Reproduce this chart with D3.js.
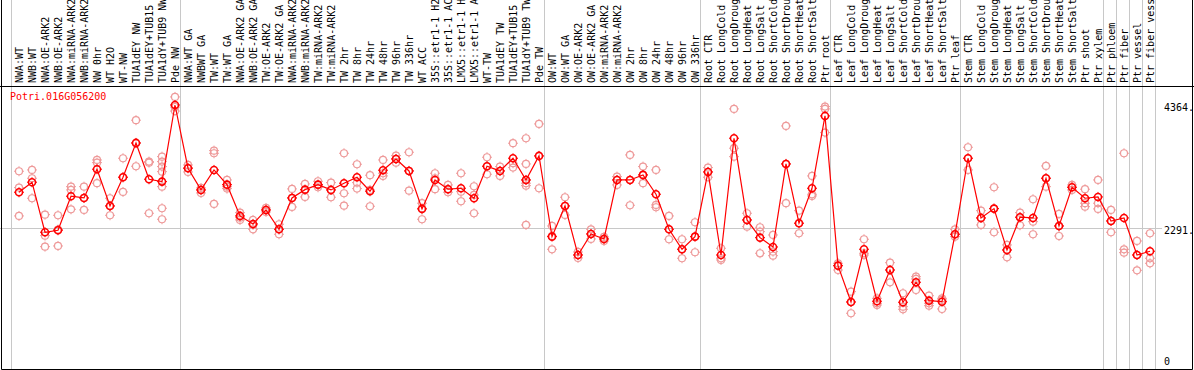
<!DOCTYPE html>
<html>
<head>
<meta charset="utf-8">
<script src="https://cdn.jsdelivr.net/npm/d3@7"></script>
<style>
  html, body { margin: 0; padding: 0; background: #fff; }
  svg { display: block; }
  text { font-family: "DejaVu Sans Mono", monospace; font-size: 10px; }
</style>
</head>
<body>
<svg width="1194" height="370"></svg>
<script>
const geneName = 'Potri.016G056200'

const samples = [
	'NWA:WT', 'NWB:WT', 'NWA:OE-ARK2', 'NWB:OE-ARK2', 'NWA:miRNA-ARK2', 'NWB:miRNA-ARK2',
	'NW 0hr', 'WT H2O', 'WT-NW', 'TUA1dEY NW', 'TUA1dEY+TUB15 NW', 'TUA1dY+TUB9 NW', 'Pde NW',
	'NWA:WT GA', 'NWBWT GA', 'TW:WT', 'TW:WT GA', 'NWA:OE-ARK2 GA', 'NWB:OE-ARK2 GA',
	'TW:OE-ARK2', 'TW:OE-ARK2 GA', 'NWA:miRNA-ARK2 GA', 'NWB:miRNA-ARK2 GA', 'TW:miRNA-ARK2',
	'TW:miRNA-ARK2 GA', 'TW 2hr', 'TW 8hr', 'TW 24hr', 'TW 48hr', 'TW 96hr', 'TW 336hr', 'WT ACC',
	'35S::etr1-1 H2O', '35S::etr1-1 ACC', 'LMX5::etr1-1 H2O', 'LMX5::etr1-1 ACC', 'WT-TW',
	'TUA1dEY TW', 'TUA1dEY+TUB15 TW', 'TUA1dY+TUB9 TW', 'Pde TW',
	'OW:WT', 'OW:WT GA', 'OW:OE-ARK2', 'OW:OE-ARK2 GA', 'OW:miRNA-ARK2', 'OW:miRNA-ARK2 GA',
	'OW 2hr', 'OW 8hr', 'OW 24hr', 'OW 48hr', 'OW 96hr', 'OW 336hr',
	'Root CTR', 'Root LongCold', 'Root LongDrought', 'Root LongHeat', 'Root LongSalt',
	'Root ShortCold', 'Root ShortDrought', 'Root ShortHeat', 'Root ShortSalt', 'Ptr root',
	'Leaf CTR', 'Leaf LongCold', 'Leaf LongDrought', 'Leaf LongHeat', 'Leaf LongSalt',
	'Leaf ShortCold', 'Leaf ShortDrought', 'Leaf ShortHeat', 'Leaf ShortSalt', 'Ptr leaf',
	'Stem CTR', 'Stem LongCold', 'Stem LongDrought', 'Stem LongHeat', 'Stem LongSalt',
	'Stem ShortCold', 'Stem ShortDrought', 'Stem ShortHeat', 'Stem ShortSalt', 'Ptr shoot', 'Ptr xylem',
	'Ptr phloem', 'Ptr fiber', 'Ptr vessel', 'Ptr fiber vessel'
]

// index of the first sample of each block (a grey rule is drawn there)
const groupBreaks = [0, 13, 41, 53, 63, 73, 84, 85, 86, 87, 88]

const meanValues = [
	2894, 3063, 2220, 2254, 2827, 2798, 3282, 2663, 3147, 3725, 3113, 3073, 4364,
	3299, 2933, 3270, 3022, 2495, 2360, 2596, 2270, 2798, 2938, 3022, 2933, 3046, 3147,
	2911, 3265, 3455, 3253, 2613, 3101, 2945, 2961, 2793, 3332, 3253, 3467, 3101, 3506,
	2146, 2663, 1837, 2191, 2107, 3101, 3101, 3186, 2860, 2270, 1933, 2146,
	3236, 1837, 3804, 2427, 2129, 1972, 3371, 2372, 2961, 4180,
	1657, 1045, 1933, 1057, 1584, 1040, 1377, 1067, 1050, 2186,
	3467, 2461, 2618, 1921, 2473, 2461, 3130, 2326, 2978, 2793, 2815,
	2410, 2461, 1837, 1900
]

const replicateValues = [
	[3248, 2972, 2495], [3270, 3130, 2793], [2516, 2163, 1977], [2506, 2264, 1989],
	[2988, 2933, 2607], [2988, 2798, 2596], [3438, 3393, 3046], [2793, 2663, 2506],
	[3467, 3147, 2899], [4108, 3720, 3332], [3410, 3393, 2540],
	[3494, 3410, 3326, 3241, 2988, 2624, 2439], [4500, 4330, 4262],
	[3354, 3304, 3236], [2966, 2933, 2882], [3595, 3551, 2697], [3101, 2988, 2955],
	[2550, 2466, 2427], [2427, 2343, 2270], [2629, 2596, 2562], [2355, 2270, 2186],
	[2950, 2798, 2646], [3034, 2933, 2815], [3079, 3017, 2978], [3056, 2933, 2810],
	[3551, 2877, 2668], [3366, 3056, 2955], [3181, 2933, 2658], [3438, 3214, 3169],
	[3511, 3455, 3393], [3568, 3253, 2921], [2709, 2624, 2439], [3214, 3130, 2945],
	[3017, 2945, 2894], [3214, 2904, 2742], [2995, 2848, 2540], [3484, 3332, 3197],
	[3326, 3253, 3169], [3720, 3383, 3309], [3804, 3371, 3101, 3046, 3005, 2343],
	[4045, 3506, 2961],
	[2326, 2157, 1933], [2810, 2663, 2511], [1888, 1837, 1787], [2270, 2191, 2107],
	[2141, 2107, 2073], [3157, 3101, 3017], [3523, 3101, 2675], [3326, 3186, 3046],
	[3270, 2680, 2641], [2495, 2270, 2102], [2102, 1933, 1782], [2388, 2146, 1883],
	[3309, 3236, 3147], [1950, 1782, 1753], [4298, 3636, 3494], [2540, 2427, 2314],
	[2304, 2230, 1866], [2174, 1893, 1825], [4011, 3371, 2709], [2584, 2372, 2203],
	[3169, 2860, 2832], [4337, 4298, 3899],
	[1697, 1657, 1584], [1219, 1045, 855], [2102, 1866, 1837], [1107, 1023, 994],
	[1707, 1584, 1377], [1192, 966, 922], [1471, 1433, 1247], [1151, 1023, 983],
	[1107, 1079, 927], [2270, 2186, 2146],
	[3652, 3467, 3270], [2584, 2461, 2343], [2978, 2618, 2220], [2006, 1921, 1798],
	[2550, 2473, 2338], [2776, 2398, 2186], [3337, 3130, 2988], [2528, 2326, 2157],
	[3017, 2978, 2933], [2945, 2709, 2651], [3101, 2709, 2613],
	[2596, 2410, 2220], [3551, 1933, 1876], [2073, 1837, 1579], [2203, 1782, 1697]
]

const tickValues = [0, 2291, 4364]
const gridValue = 2291

const svg = d3.select('svg')
const width = +svg.attr('width')
const height = +svg.attr('height')
const headerBottom = 86
const plotRight = 1162

const x = d3.scaleBand()
	.domain(d3.range(samples.length))
	.range([11, 11 + 13 * samples.length])
	.paddingInner(0)
const px = i => x(i) + 8

const y = d3.scaleLinear()
	.domain([0, 4364])
	.range([364, 105])

// horizontal rule at the mid value
svg.append('line')
	.attr('x1', 0).attr('x2', plotRight)
	.attr('y1', Math.round(y(gridValue)) + 0.5)
	.attr('y2', Math.round(y(gridValue)) + 0.5)
	.attr('stroke', '#c8c8c8')

// block separators
svg.selectAll('line.sep')
	.data(groupBreaks)
	.join('line')
	.attr('class', 'sep')
	.attr('x1', d => Math.round(x(d) ?? x.range()[1]) + 0.5)
	.attr('x2', d => Math.round(x(d) ?? x.range()[1]) + 0.5)
	.attr('y1', 0).attr('y2', height)
	.attr('stroke', '#c8c8c8')

// frame
svg.append('path')
	.attr('d', `M1.5,0V${height - 0.5}H${width - 1.5}V0`)
	.attr('fill', 'none')
	.attr('stroke', '#000')
svg.append('line')
	.attr('x1', 0).attr('x2', width)
	.attr('y1', headerBottom + 0.5).attr('y2', headerBottom + 0.5)
	.attr('stroke', '#000')

// sample labels (long ones run off the top, as in the original)
svg.selectAll('text.lab')
	.data(samples)
	.join('text')
	.attr('class', 'lab')
	.attr('transform', (d, i) => `translate(${px(i) + 4},83) rotate(-90)`)
	.text(d => d)

// right side values
const axis = d3.axisRight(y)
	.tickValues(tickValues)
	.tickSize(0)
	.tickFormat(d => d === 0 ? '0' : d + '.')
const ax = svg.append('g')
	.attr('transform', `translate(${plotRight},2.5)`)
	.call(axis)
ax.select('.domain').remove()
ax.selectAll('text')
	.attr('x', 2)
	.attr('fill', '#000')
	.attr('dy', d => d === 0 ? '-0.2em' : '0.32em')
	.style('font-family', '"DejaVu Sans Mono", monospace')
	.style('font-size', '10px')

svg.append('text')
	.attr('x', 10).attr('y', 100)
	.attr('fill', '#f00')
	.text(geneName)

const marker = (g, color, sw) => {
	g.append('circle')
		.attr('r', 3.5)
		.attr('fill', 'none')
		.attr('stroke', color)
		.attr('stroke-width', sw)
	g.append('path')
		.attr('d', 'M0,-5V-3.5M0,3.5V5M-5,0H-3.5M3.5,0H5')
		.attr('stroke', color)
		.attr('stroke-width', 1)
}

// replicates
const repPoints = replicateValues.flatMap((vals, i) => vals.map(v => ({i, v})))
svg.append('g')
	.selectAll('g')
	.data(repPoints)
	.join('g')
	.attr('transform', d => `translate(${px(d.i)},${y(d.v)})`)
	.each(function() { marker(d3.select(this), '#ee9a9a', 1.2) })

// mean line
const line = d3.line()
	.x((d, i) => px(i))
	.y(d => y(d))
svg.append('path')
	.datum(meanValues)
	.attr('d', line)
	.attr('fill', 'none')
	.attr('stroke', '#f00')
	.attr('stroke-width', 1.2)

svg.append('g')
	.selectAll('g')
	.data(meanValues)
	.join('g')
	.attr('transform', (d, i) => `translate(${px(i)},${y(d)})`)
	.each(function() { marker(d3.select(this), '#f00', 1.6) })
</script>
</body>
</html>
